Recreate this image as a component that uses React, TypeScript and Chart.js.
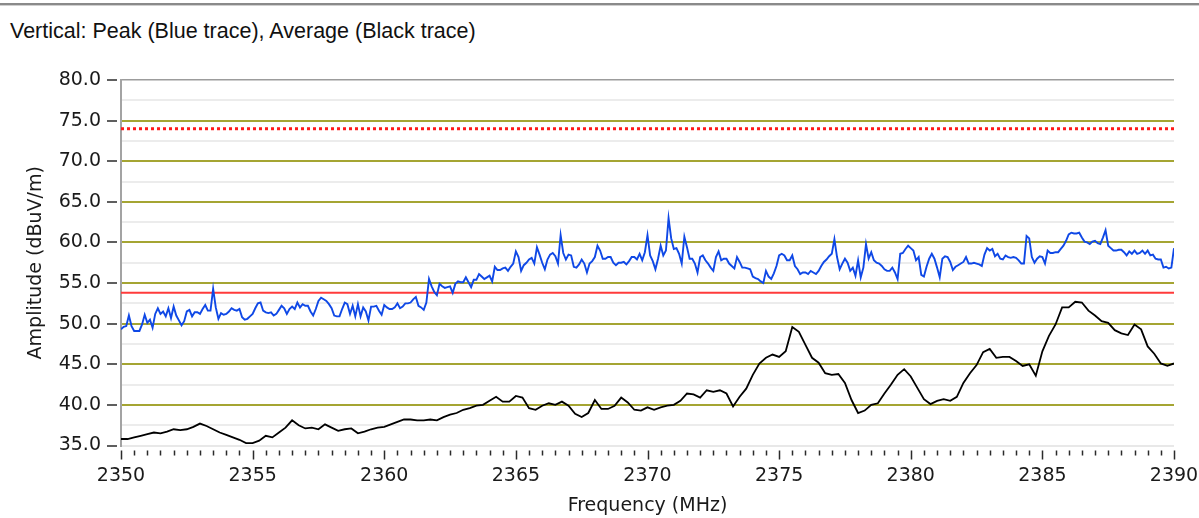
import { useEffect, useRef } from 'react';
import { Chart, registerables } from 'chart.js';

Chart.register(...registerables);

const chartTitle = 'Vertical: Peak (Blue trace), Average (Black trace)';
const xAxisTitle = 'Frequency (MHz)';
const yAxisTitle = 'Amplitude (dBuV/m)';

const freqMin = 2350;
const freqMax = 2390;
const ampMin = 35;
const ampMax = 80;

const xMajorTicks = [2350, 2355, 2360, 2365, 2370, 2375, 2380, 2385, 2390];
const yMajorTicks = [35, 40, 45, 50, 55, 60, 65, 70, 75, 80];

// Peak (blue) trace, one reading every 0.1 MHz from 2350 MHz
const peakStartMHz = 2350;
const peakStepMHz = 0.1;
const peakTrace = [
  49.3, 49.6, 49.7, 51.0, 49.7, 49.1, 49.1, 49.1, 49.9, 51.1,
  50.1, 50.5, 49.5, 51.2, 51.9, 51.2, 51.5, 50.9, 51.9, 50.7,
  52.1, 51.0, 50.4, 49.8, 50.3, 51.5, 51.7, 50.9, 51.4, 51.4,
  51.2, 51.8, 52.3, 51.6, 51.6, 54.3, 52.0, 50.6, 51.3, 51.1,
  51.2, 51.5, 51.9, 51.7, 51.6, 51.8, 50.8, 50.5, 50.6, 50.9,
  51.2, 51.9, 52.5, 52.6, 51.6, 51.4, 51.3, 51.4, 51.0, 51.2,
  51.7, 52.2, 51.9, 51.2, 51.8, 52.1, 51.8, 52.6, 52.0, 52.4,
  52.2, 52.2, 51.5, 51.0, 51.8, 52.8, 53.2, 53.0, 52.8, 52.4,
  51.9, 51.0, 50.9, 50.9, 51.8, 52.6, 52.4, 51.2, 52.2, 50.9,
  52.4, 50.9, 52.0, 51.5, 50.4, 52.1, 52.1, 52.2, 51.6, 51.1,
  52.3,
  52.0, 51.8, 51.8, 52.0, 52.5, 51.9, 52.1, 52.5, 52.5, 52.6,
  53.0, 53.3, 52.2, 52.0, 51.7, 52.6, 55.5, 54.6, 53.9, 53.5,
  54.9, 54.6, 54.4, 54.5, 54.6, 53.8, 54.9, 55.2, 55.1, 55.1,
  55.7, 55.1, 54.5, 55.4, 55.4, 56.1, 55.8, 55.5, 55.7, 55.9,
  55.2, 57.0, 56.6, 56.6, 56.8, 56.9, 56.5, 57.0, 57.4, 58.9,
  58.2, 56.5, 57.2, 57.5, 57.9, 58.1, 57.4, 59.4, 58.5, 57.5,
  56.7, 57.9, 58.5, 58.7, 58.3, 57.4, 60.9, 58.7, 57.9, 58.5,
  58.4, 57.0, 56.9, 57.3, 57.9, 57.4, 56.3, 57.4, 57.7, 58.2,
  59.6, 59.0, 58.0, 58.0, 58.2, 58.2, 57.5, 57.2, 57.5, 57.5,
  57.6, 57.3, 57.7, 58.2, 58.2, 57.9, 58.6, 57.8, 58.8, 60.9,
  58.4, 57.7, 56.7, 58.0, 59.6, 58.4, 59.0, 63.0, 60.5, 59.2,
  59.3, 58.6, 57.4, 60.7, 59.4, 58.0, 58.0, 57.4, 56.3, 58.2,
  58.4, 57.8, 57.4, 56.9, 56.5, 58.2, 58.9, 57.8, 58.0, 58.0,
  57.4, 57.1, 56.8, 58.2, 57.6, 56.9, 56.9, 56.8, 56.7, 55.8,
  55.6, 55.5, 55.2, 55.0, 56.5, 55.8, 55.5, 56.2, 57.1, 58.4,
  58.6, 58.4, 57.8, 57.8, 58.4, 57.1, 56.7, 56.1, 56.3, 56.3,
  56.1, 56.5, 56.3, 56.1, 56.5, 57.1, 57.6, 57.9, 58.3, 58.6,
  60.4, 58.2, 56.7, 57.4, 58.0, 57.5, 56.5, 56.9, 55.9, 57.8,
  55.7, 56.9, 59.8, 58.0, 58.8, 57.8, 57.5, 57.4, 57.1, 56.7,
  56.5, 56.5, 56.9, 56.3, 55.5, 58.6, 58.7, 59.2, 59.6, 59.3,
  59.0, 57.8, 58.2, 56.0, 55.8, 57.0, 58.0, 58.6, 58.0, 56.9,
  55.7, 58.0, 58.3, 58.2, 57.6, 56.6, 57.0, 57.2, 57.4, 57.6,
  58.2, 57.4, 57.4, 57.5, 57.4, 57.3, 57.1, 58.5, 59.3, 59.0,
  59.2, 58.3, 58.6, 58.0, 57.9, 58.4, 58.2, 58.1, 58.2, 58.1,
  57.8, 57.4, 57.4, 60.8, 60.5, 58.2, 57.5, 58.0, 58.3, 58.2,
  57.4, 59.0, 58.7, 58.7, 58.8, 58.8, 59.2, 59.6, 60.2, 61.0,
  61.2, 61.1, 61.1, 61.2, 60.6, 60.1, 60.0, 59.8, 60.1, 60.2,
  59.9, 59.8, 60.6, 61.5, 59.6, 59.3, 59.0, 59.0, 59.1, 59.1,
  58.8, 58.4, 58.9, 58.6, 59.0, 58.6, 58.7, 59.0, 58.6, 59.0,
  58.4, 58.5, 58.0, 57.9, 57.9, 56.9, 57.0, 56.8, 56.9, 59.3,
];

// Average (black) trace, one reading every 0.25 MHz from 2350 MHz
const avgStartMHz = 2350;
const avgStepMHz = 0.25;
const avgTrace = [
  35.8, 35.8, 36.0, 36.2, 36.4, 36.6, 36.5, 36.7, 37.0, 36.9,
  37.0, 37.3, 37.7, 37.4, 37.0, 36.6, 36.3, 36.0, 35.7, 35.3,
  35.3, 35.6, 36.2, 36.0, 36.6, 37.2, 38.1, 37.5, 37.1, 37.2,
  37.0, 37.6, 37.2, 36.8, 37.0, 37.1, 36.5, 36.7, 37.0, 37.2,
  37.3,
  37.6, 37.9, 38.2, 38.2, 38.1, 38.1, 38.2, 38.1, 38.5, 38.8,
  39.0, 39.4, 39.6, 39.9, 40.0, 40.5, 41.0, 40.4, 40.4, 41.1,
  40.9, 39.6, 39.4, 39.9, 40.2, 40.0, 40.4, 39.9, 38.9, 38.5,
  39.0, 40.6, 39.5, 39.5, 39.9, 40.9, 40.3, 39.4, 39.3, 39.7,
  39.4, 39.7, 39.9, 40.0, 40.5, 41.4, 41.3, 40.9, 41.8, 41.6,
  41.8, 41.4, 39.8, 41.0, 42.0, 43.7, 45.1, 45.8, 46.2, 45.9,
  46.6, 49.6, 49.0, 47.4, 45.8, 45.2, 43.9, 43.7, 43.8, 42.7,
  40.6, 39.0, 39.3, 40.0, 40.2, 41.4, 42.5, 43.7, 44.4, 43.5,
  42.1, 40.7, 40.1, 40.5, 40.7, 40.5, 41.0, 42.7, 43.9, 44.9,
  46.5, 46.9, 45.8, 45.9, 45.9, 45.4, 44.8, 45.0, 43.6, 46.6,
  48.5, 49.9, 52.0, 52.0, 52.7, 52.6, 51.6, 51.0, 50.3, 50.1,
  49.2, 48.8, 48.6, 49.9, 49.3, 47.2, 46.3, 45.1, 44.8, 45.1,
];

const peakLimit = 74.0;
const avgLimit = 53.8;

const FONT = 'DejaVu Sans';
const OLIVE = '#a5a533';
const MINOR = '#ececec';

const isMajor = (v: number, step: number) => Math.abs(v / step - Math.round(v / step)) < 1e-6;

const tickMarks = {
  id: 'tickMarks',
  afterDraw(chart: any) {
    const { ctx, chartArea, scales } = chart;
    const xs = scales.x;
    const ys = scales.y;
    ctx.save();
    ctx.strokeStyle = '#2b2b2b';
    ctx.lineWidth = 1.5;
    ctx.beginPath();
    for (const v of yMajorTicks) {
      const py = Math.round(ys.getPixelForValue(v));
      ctx.moveTo(chartArea.left - 14, py);
      ctx.lineTo(chartArea.left - 4, py);
    }
    for (const t of xs.ticks) {
      const px = Math.round(xs.getPixelForValue(t.value)) + 0.5;
      const major = xMajorTicks.some((m) => Math.abs(m - t.value) < 1e-6);
      ctx.moveTo(px, chartArea.bottom + 5);
      ctx.lineTo(px, chartArea.bottom + (major ? 14 : 10));
    }
    ctx.stroke();
    ctx.restore();
  },
};

export default function App() {
  const canvasRef = useRef<HTMLCanvasElement | null>(null);

  useEffect(() => {
    const canvas = canvasRef.current;
    if (!canvas) return;
    const peakData = peakTrace.map((v, i) => ({ x: peakStartMHz + i * peakStepMHz, y: v }));
    const avgData = avgTrace.map((v, i) => ({ x: avgStartMHz + i * avgStepMHz, y: v }));

    const chart = new Chart(canvas, {
      type: 'line',
      data: {
        datasets: [
          {
            label: 'Peak',
            data: peakData,
            borderColor: '#0f48e6',
            borderWidth: 1.9,
            pointRadius: 0,
            tension: 0,
            order: 1,
          },
          {
            label: 'Average',
            data: avgData,
            borderColor: '#000000',
            borderWidth: 1.8,
            pointRadius: 0,
            tension: 0,
            order: 2,
          },
          {
            label: 'Peak limit',
            data: [
              { x: freqMin, y: peakLimit },
              { x: freqMax, y: peakLimit },
            ],
            borderColor: '#ff1a1a',
            borderWidth: 3,
            borderDash: [3, 3],
            pointRadius: 0,
            order: 3,
          },
          {
            label: 'Average limit',
            data: [
              { x: freqMin, y: avgLimit },
              { x: freqMax, y: avgLimit },
            ],
            borderColor: '#ff3b3b',
            borderWidth: 2,
            pointRadius: 0,
            order: 4,
          },
        ],
      },
      options: {
        responsive: false,
        animation: false,
        devicePixelRatio: 1,
        events: [],
        layout: { padding: { top: 80, right: 25, left: 0, bottom: 0 } },
        plugins: {
          legend: { display: false },
          tooltip: { enabled: false },
          title: { display: false },
        },
        scales: {
          x: {
            type: 'linear',
            min: freqMin,
            max: freqMax,
            afterFit: (s: any) => {
              s.height = 72.5;
              s.paddingLeft = 0;
              s.paddingRight = 0;
            },
            grid: { display: false },
            border: { display: false },
            ticks: {
              stepSize: 0.5,
              autoSkip: false,
              maxRotation: 0,
              padding: 11,
              color: '#1a1a1a',
              font: { family: FONT, size: 19 },
              callback: (v: any) => (isMajor(Number(v), 5) ? String(Math.round(Number(v))) : ''),
            },
            title: {
              display: true,
              text: xAxisTitle,
              color: '#1a1a1a',
              font: { family: FONT, size: 19 },
              padding: { top: 0, bottom: 1 },
            },
          },
          y: {
            type: 'linear',
            min: ampMin,
            max: ampMax,
            afterFit: (s: any) => {
              s.width = 121;
              s.paddingTop = 0;
              s.paddingBottom = 0;
            },
            grid: {
              drawTicks: false,
              color: (c: any) => {
                const v = c.tick.value;
                if (v === ampMax) return '#9c9c9c';
                if (v === ampMin) return '#e8e8e8';
                return isMajor(v, 5) ? OLIVE : MINOR;
              },
              lineWidth: (c: any) => (c.tick.value === ampMax ? 1.5 : 2),
            },
            border: { display: true, color: '#a3a3a3', width: 2 },
            ticks: {
              stepSize: 2.5,
              autoSkip: false,
              padding: 20,
              color: '#1a1a1a',
              font: { family: FONT, size: 19 },
              callback: (v: any) => (isMajor(Number(v), 5) ? Number(v).toFixed(1) : ''),
            },
            title: {
              display: true,
              text: yAxisTitle,
              color: '#1a1a1a',
              font: { family: FONT, size: 19 },
              padding: { top: 25, bottom: 0 },
            },
          },
        },
      },
      plugins: [tickMarks],
    });
    return () => chart.destroy();
  }, []);

  return (
    <div
      style={{
        position: 'fixed',
        left: 0,
        top: 0,
        width: 1199,
        height: 518,
        background: '#ffffff',
        overflow: 'hidden',
      }}
    >
      <div
        style={{
          position: 'absolute',
          left: 0,
          top: 3,
          width: 1199,
          height: 0,
          borderTop: '2px solid #8a8a8a',
          borderBottom: '1px solid #cfcfcf',
        }}
      />
      <div
        style={{
          position: 'absolute',
          left: 10,
          top: 21,
          font: '21.5px "Liberation Sans", Arial, sans-serif',
          lineHeight: '20px',
          color: '#111111',
          whiteSpace: 'nowrap',
        }}
      >
        {chartTitle}
      </div>
      <canvas ref={canvasRef} width={1199} height={518} style={{ position: 'absolute', left: 0, top: 0 }} />
    </div>
  );
}
